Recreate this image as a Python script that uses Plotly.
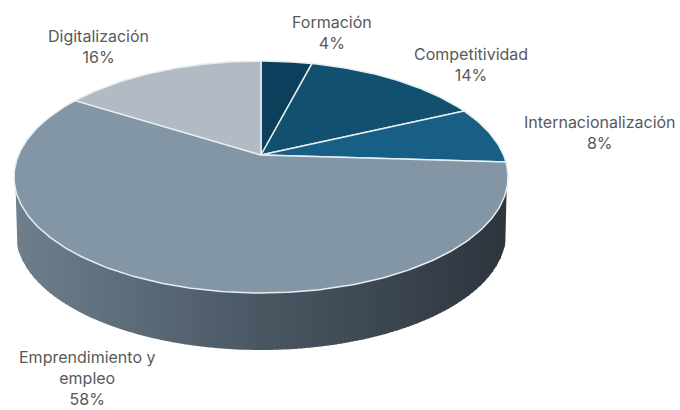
import numpy as np
import plotly.graph_objects as go

categories = ["Formación", "Competitividad", "Internacionalización", "Emprendimiento y<br>empleo", "Digitalización"]
values = [4, 14, 8, 58, 16]
slice_colors = ["#0c3f5c", "#11506f", "#175f84", "#8396a6", "#b2bbc4"]
side_stops = [(0.0, "#6f7f8c"), (0.2, "#5f6f7c"), (0.5, "#4a5763"), (0.8, "#39434d"), (1.0, "#2e353d")]

# Apex of the pie on the canvas and the perspective of the tilted disc
CX, CY = 261, 155
SX, SY, K = 242.5, 111.8, -0.1897
DEPTH, BOTTOM_RX = 57, 245


def project(theta):
    """Clockwise angle from 12 o'clock on the disc -> canvas position (perspective)."""
    X, Y = np.sin(theta), -np.cos(theta)
    w = 1 + K * Y
    return CX + SX * X / w, CY + SY * Y / w


def hex_rgb(h):
    return np.array([int(h[i:i + 2], 16) for i in (1, 3, 5)], float)


def side_color(t):
    pos = [s[0] for s in side_stops]
    rgb = [np.interp(t, pos, [hex_rgb(s[1])[k] for s in side_stops]) for k in range(3)]
    return "rgb(%d,%d,%d)" % tuple(rgb)


fig = go.Figure()

# Outline of the disc, used to derive the side wall
ring_x, ring_y = project(np.linspace(0, 2 * np.pi, 721))
RX = (ring_x.max() - ring_x.min()) / 2
ELL_CY = (ring_y.max() + ring_y.min()) / 2
RY = (ring_y.max() - ring_y.min()) / 2


def lower_rim(xs, rx, cy):
    return cy + RY * np.sqrt(np.clip(1 - ((xs - CX) / rx) ** 2, 0, 1))


# Side wall, as thin vertical strips that carry the horizontal gradient
edges = np.linspace(CX - RX, CX + RX, 125)
for a, b in zip(edges[:-1], edges[1:]):
    xs = np.linspace(a, min(b + 1, CX + RX), 4)
    top = lower_rim(xs, RX, ELL_CY)
    bot = np.maximum(top, lower_rim(xs, BOTTOM_RX, ELL_CY + DEPTH))
    inside = np.abs(xs - CX) <= BOTTOM_RX
    bot = np.where(inside, bot, top)
    px = np.r_[xs, xs[::-1]]
    py = np.r_[top, bot[::-1]]
    fig.add_trace(go.Scatter(x=px, y=py, mode="lines", fill="toself", line=dict(width=0),
                             fillcolor=side_color((a - edges[0]) / (edges[-1] - edges[0])),
                             hoverinfo="skip", showlegend=False))

# Top face: each wedge's sweep comes from its value, clockwise from 12 o'clock
total = sum(values)
start = 0.0
for name, v, c in zip(categories, values, slice_colors):
    end = start + v / total * 2 * np.pi
    th = np.linspace(start, end, max(int(v * 4), 12))
    ex, ey = project(th)
    px = np.r_[CX, ex, CX]
    py = np.r_[CY, ey, CY]
    fig.add_trace(go.Scatter(x=px, y=py, mode="lines", fill="toself", fillcolor=c,
                             line=dict(color="#e6eef2", width=1.5), name=name.replace("<br>", " "),
                             hoverinfo="name", showlegend=False))
    start = end

label_pos = [(332, 32), (471, 64), (600, 132), (87, 378), (98, 46)]
for name, v, (x, y) in zip(categories, values, label_pos):
    fig.add_annotation(x=x, y=y, text=f"{name}<br>{v}%", showarrow=False, xanchor="center", yanchor="middle",
                       font=dict(family="Inter, Noto Sans, sans-serif", size=16, color="#595959"))

fig.update_layout(width=680, height=410, margin=dict(l=0, r=0, t=0, b=0),
                  paper_bgcolor="white", plot_bgcolor="white",
                  xaxis=dict(range=[0, 680], visible=False, fixedrange=True),
                  yaxis=dict(range=[410, 0], visible=False, fixedrange=True))
fig.write_html("out.html", config={"displayModeBar": False},
               post_script="document.body.style.margin='0';document.documentElement.style.overflow='hidden';")
